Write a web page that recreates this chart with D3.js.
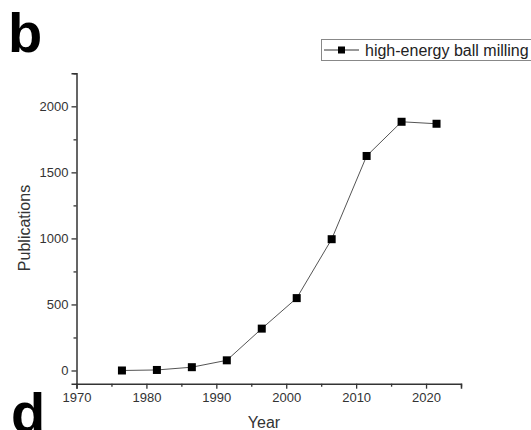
<!DOCTYPE html>
<html>
<head>
<meta charset="utf-8">
<script src="https://cdn.jsdelivr.net/npm/d3@7"></script>
<style>
  body { margin: 0; background: #fff; }
  svg { display: block; font-family: "Liberation Sans", Arial, sans-serif; }
</style>
</head>
<body>
<div id="chart"></div>
<script>
document.addEventListener('DOMContentLoaded', function() {
	// data
	var years = [1976.5, 1981.5, 1986.5, 1991.5, 1996.5, 2001.5, 2006.5, 2011.5, 2016.5, 2021.5]
	var publications = [0, 4, 25, 77, 317, 548, 994, 1624, 1883, 1868]
	var xMajorTicks = [1970, 1980, 1990, 2000, 2010, 2020]
	var xMinorTicks = [1975, 1985, 1995, 2005, 2015, 2025]
	var yMajorTicks = [0, 500, 1000, 1500, 2000]
	var yMinorTicks = [250, 750, 1250, 1750, 2250]
	var seriesName = 'high-energy ball milling'

	var svg = d3.select('#chart')
		.append('svg')
		.attr('width', 531)
		.attr('height', 430)

	var x = d3.scaleLinear().domain([1970, 2025]).range([76.5, 461])
	var y = d3.scaleLinear().domain([-100, 2250]).range([383.7, 73.3])

	var axisColor = '#333'

	// y axis
	svg.append('g')
		.attr('transform', 'translate(' + x(1970) + ',0)')
		.call(d3.axisLeft(y).tickValues(yMajorTicks).tickSize(5).tickPadding(3).tickFormat(d3.format('d')))
	var yMinor = svg.append('g')
		.attr('transform', 'translate(' + x(1970) + ',0)')
		.call(d3.axisLeft(y).tickValues(yMinorTicks).tickSize(3).tickFormat(''))
	yMinor.select('.domain').remove()

	// x axis
	svg.append('g')
		.attr('transform', 'translate(0,' + y(-100) + ')')
		.call(d3.axisBottom(x).tickValues(xMajorTicks).tickSize(5).tickPadding(4).tickFormat(d3.format('d')))
	var xMinor = svg.append('g')
		.attr('transform', 'translate(0,' + y(-100) + ')')
		.call(d3.axisBottom(x).tickValues(xMinorTicks).tickSize(3).tickFormat(''))
	xMinor.select('.domain').remove()

	svg.selectAll('.domain')
		.attr('stroke', axisColor)
		.attr('stroke-width', 1.5)
	svg.selectAll('.tick line')
		.attr('stroke', axisColor)
		.attr('stroke-width', 1.3)
	svg.selectAll('.tick text')
		.attr('fill', '#333')
		.style('font-size', '13px')

	// axis titles
	svg.append('text')
		.attr('transform', 'translate(30,228) rotate(-90)')
		.attr('text-anchor', 'middle')
		.attr('fill', '#333')
		.style('font-size', '16px')
		.text('Publications')
	svg.append('text')
		.attr('x', 264)
		.attr('y', 428)
		.attr('text-anchor', 'middle')
		.attr('fill', '#333')
		.style('font-size', '16px')
		.text('Year')

	// series line
	var line = d3.line()
		.x(function(d, i) { return x(years[i]) })
		.y(function(d) { return y(d) })

	svg.append('path')
		.datum(publications)
		.attr('d', line)
		.attr('fill', 'none')
		.attr('stroke', '#555')
		.attr('stroke-width', 1)

	svg.selectAll('.marker')
		.data(publications)
		.enter()
		.append('rect')
		.attr('class', 'marker')
		.attr('x', function(d, i) { return x(years[i]) - 4 })
		.attr('y', function(d) { return y(d) - 4 })
		.attr('width', 8)
		.attr('height', 8)
		.attr('fill', '#000')

	// legend
	var legend = svg.append('g')
	legend.append('rect')
		.attr('x', 321.5)
		.attr('y', 39.5)
		.attr('width', 215)
		.attr('height', 21)
		.attr('fill', 'none')
		.attr('stroke', '#888')
		.attr('stroke-width', 1)
	legend.append('line')
		.attr('x1', 324)
		.attr('x2', 359)
		.attr('y1', 50)
		.attr('y2', 50)
		.attr('stroke', '#333')
		.attr('stroke-width', 1)
	legend.append('rect')
		.attr('x', 338)
		.attr('y', 46.5)
		.attr('width', 7)
		.attr('height', 7)
		.attr('fill', '#000')
	legend.append('text')
		.attr('x', 365)
		.attr('y', 56)
		.attr('fill', '#222')
		.style('font-size', '16px')
		.text(seriesName)

	// panel letters
	svg.append('text')
		.attr('x', 8)
		.attr('y', 52)
		.attr('fill', '#000')
		.style('font-size', '56px')
		.style('font-weight', 'bold')
		.text('b')
	svg.append('text')
		.attr('x', 11)
		.attr('y', 432)
		.attr('fill', '#000')
		.style('font-size', '56px')
		.style('font-weight', 'bold')
		.text('d')
})
</script>
</body>
</html>
